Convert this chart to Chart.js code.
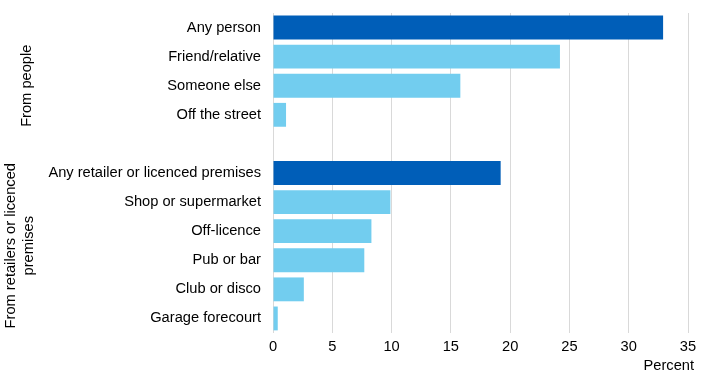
<!DOCTYPE html>
<html>
<head>
<meta charset="utf-8">
<style>
  html, body { margin: 0; padding: 0; background: #fff; }
  #wrap { width: 710px; height: 384px; }
</style>
<script src="https://cdn.jsdelivr.net/npm/chart.js@4/dist/chart.umd.min.js"></script>
</head>
<body>
<div id="wrap"><canvas id="sourcesChart"></canvas></div>
<script>
// categories (blank entry = gap between the two groups)
const categories = [
    'Any person', 'Friend/relative', 'Someone else', 'Off the street',
    '',
    'Any retailer or licenced premises', 'Shop or supermarket', 'Off-licence',
    'Pub or bar', 'Club or disco', 'Garage forecourt'
];
const percentValues = [32.9, 24.2, 15.8, 1.1, null, 19.2, 9.9, 8.3, 7.7, 2.6, 0.4];
const isTotalRow = [true, false, false, false, false, true, false, false, false, false, false];
const xTicks = [0, 5, 10, 15, 20, 25, 30, 35];
const groupNames = [['From people'], ['From retailers or licenced', 'premises']];
const groupRanges = [[0, 4], [5, 10]];
const axisTitle = 'Percent';

const darkBlue = '#005EB8';
const lightBlue = '#72CDEF';
const fontFamily = '"Liberation Sans", Arial, sans-serif';
const fontSize = 14.67;

const extraLabels = {
    id: 'extraLabels',
    afterDraw(chart) {
        const ctx = chart.ctx;
        const y = chart.scales.y;
        ctx.save();
        ctx.font = fontSize + 'px ' + fontFamily;
        ctx.fillStyle = '#000';
        ctx.textBaseline = 'middle';

        // group labels, rotated, centred on their rows
        ctx.textAlign = 'center';
        groupNames.forEach((lines, i) => {
            const half = (y.getPixelForValue(1) - y.getPixelForValue(0)) / 2;
            const top = y.getPixelForValue(groupRanges[i][0]) - half;
            const bottom = y.getPixelForValue(groupRanges[i][1]) + half;
            const mid = (top + bottom) / 2;
            const lineH = 18;
            const cx = lines.length === 1 ? 27 : 20;
            lines.forEach((line, j) => {
                ctx.save();
                ctx.translate(cx + (j - (lines.length - 1) / 2) * lineH, mid);
                ctx.rotate(-Math.PI / 2);
                ctx.fillText(line, 0, 0);
                ctx.restore();
            });
        });

        // x axis title
        ctx.textAlign = 'right';
        ctx.fillText(axisTitle, chart.chartArea.right + 6, 366);
        ctx.restore();
    }
};

const data = {
    labels: categories,
    datasets: [{
        label: 'Percent',
        data: percentValues,
        backgroundColor: isTotalRow.map(t => t ? darkBlue : lightBlue),
        barPercentage: 0.82,
        categoryPercentage: 1.0
    }]
};

const config = {
    type: 'bar',
    data: data,
    options: {
        indexAxis: 'y',
        responsive: true,
        maintainAspectRatio: false,
        animation: false,
        layout: { padding: { top: 13, right: 22, left: 0, bottom: 0 } },
        plugins: {
            legend: { display: false },
            tooltip: { enabled: false }
        },
        scales: {
            x: {
                min: 0,
                max: 35,
                afterBuildTicks: (scale) => { scale.ticks = xTicks.map(v => ({ value: v })); },
                afterFit: (scale) => { scale.height = 51; scale.paddingLeft = 0; scale.paddingRight = 0; },
                grid: { color: '#d9d9d9', lineWidth: 1, drawTicks: false },
                border: { display: false },
                ticks: { color: '#000', font: { family: fontFamily, size: fontSize }, padding: 5 }
            },
            y: {
                afterFit: (scale) => { scale.width = 273; scale.paddingTop = 0; scale.paddingBottom = 0; },
                grid: { display: false, drawTicks: false },
                border: { display: false },
                ticks: { color: '#000', font: { family: fontFamily, size: fontSize }, padding: 12, autoSkip: false }
            }
        }
    },
    plugins: [extraLabels]
};

const myChart = new Chart(document.getElementById('sourcesChart'), config);
</script>
</body>
</html>
